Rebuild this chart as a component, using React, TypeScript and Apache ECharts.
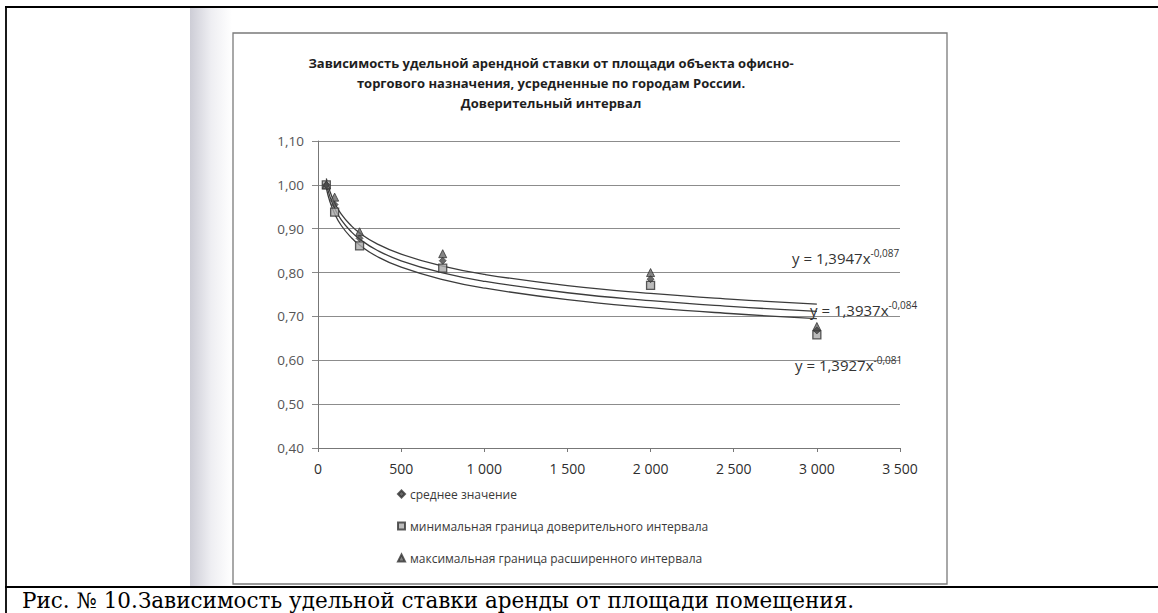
import React, { useEffect, useRef } from "react";
import * as echarts from "echarts";

// ---- data ----
const areas = [50, 100, 250, 750, 2000, 3000];
const meanValues = [1.0, 0.955, 0.878, 0.827, 0.785, 0.668];
const minValues = [1.0, 0.938, 0.861, 0.81, 0.771, 0.658];
const maxValues = [1.0, 0.972, 0.893, 0.843, 0.8, 0.677];

const seriesNames = [
  "среднее значение",
  "минимальная граница доверительного интервала",
  "максимальная граница расширенного интервала",
];

// power trend lines y = a * x^b, as printed on the chart
const trendA = [1.3947, 1.3937, 1.3927];
const trendB = [-0.087, -0.084, -0.081];
const trendMain = ["y = 1,3947x", "y = 1,3937x", "y = 1,3927x"];
const trendExp = ["-0,087", "-0,084", "-0,081"];
const trendX = [50, 70, 100, 140, 200, 250, 350, 500, 750, 1000, 1500, 2000, 2500, 3000];

const titleLines = [
  "Зависимость удельной арендной ставки от площади объекта офисно-",
  "торгового назначения, усредненные по городам России.",
  "Доверительный интервал",
];
const caption = "Рис. № 10.Зависимость удельной ставки аренды от площади помещения.";

const FONT = "'Open Sans', 'Noto Sans', sans-serif";

export default function App() {
  const ref = useRef<HTMLDivElement>(null);

  useEffect(() => {
    if (!ref.current) return;
    const chart = echarts.init(ref.current, undefined, { renderer: "svg" });

    const trendSeries = trendA.map((a, i) => ({
      type: "line",
      name: "trend" + i,
      data: trendX.map((x) => [x, a * Math.pow(x, trendB[i])]),
      showSymbol: false,
      smooth: true,
      lineStyle: { color: "#3c3c3c", width: 1.3 },
      silent: true,
      z: 2,
    }));

    const eqPos = [
      [792, 258],
      [810, 310],
      [795, 365],
    ];

    const option: any = {
      animation: false,
      backgroundColor: "#ffffff",
      textStyle: { fontFamily: FONT },
      title: {
        text: titleLines.join("\n"),
        left: 551,
        top: 53,
        textAlign: "center",
        padding: 0,
        textStyle: {
          fontFamily: FONT,
          fontSize: 13,
          fontWeight: "bold",
          lineHeight: 20,
          color: "#1e1e1e",
        },
      },
      grid: { left: 318, right: 258, top: 141, bottom: 165, containLabel: false },
      xAxis: {
        type: "value",
        min: 0,
        max: 3500,
        interval: 500,
        axisLine: { show: true, lineStyle: { color: "#777", width: 1 } },
        axisTick: { show: true, length: 4, lineStyle: { color: "#777" } },
        splitLine: { show: false },
        axisLabel: {
          color: "#2e2e2e",
          fontSize: 14,
          fontFamily: FONT,
          margin: 13,
          formatter: (v: number) =>
            v >= 1000 ? `${Math.floor(v / 1000)} ${String(v % 1000).padStart(3, "0")}` : String(v),
        },
      },
      yAxis: {
        type: "value",
        min: 0.4,
        max: 1.1,
        interval: 0.1,
        axisLine: { show: true, lineStyle: { color: "#777", width: 1 } },
        axisTick: { show: true, length: 6, lineStyle: { color: "#888" } },
        splitLine: { show: true, lineStyle: { color: "#8c8c8c", width: 1 } },
        axisLabel: {
          color: "#555",
          fontSize: 13.5,
          fontFamily: FONT,
          margin: 14,
          formatter: (v: number) => v.toFixed(2).replace(".", ","),
        },
      },
      legend: {
        orient: "vertical",
        left: 392,
        top: 483,
        itemGap: 20,
        itemWidth: 7,
        itemHeight: 7,
        data: seriesNames,
        textStyle: { color: "#3a3a3a", fontSize: 12, fontFamily: FONT },
      },
      series: [
        ...trendSeries,
        {
          type: "scatter",
          name: seriesNames[1],
          data: areas.map((x, i) => [x, minValues[i]]),
          symbol: "rect",
          symbolSize: 8,
          itemStyle: { color: "#aaa", borderColor: "#333", borderWidth: 1.3 },
          z: 5,
        },
        {
          type: "scatter",
          name: seriesNames[2],
          data: areas.map((x, i) => [x, maxValues[i]]),
          symbol: "triangle",
          symbolSize: 8,
          itemStyle: { color: "#666", borderColor: "#333", borderWidth: 1 },
          z: 6,
        },
        {
          type: "scatter",
          name: seriesNames[0],
          data: areas.map((x, i) => [x, meanValues[i]]),
          symbol: "diamond",
          symbolSize: 7,
          itemStyle: { color: "#444", borderColor: "#333", borderWidth: 0.8 },
          z: 7,
        },
      ],
      graphic: [
        // page table borders
        { type: "line", shape: { x1: 5, y1: 7, x2: 1158, y2: 7 }, style: { stroke: "#000", lineWidth: 1.8 } },
        { type: "line", shape: { x1: 6, y1: 7, x2: 6, y2: 613 }, style: { stroke: "#000", lineWidth: 1.8 } },
        { type: "line", shape: { x1: 5, y1: 587, x2: 1158, y2: 587 }, style: { stroke: "#000", lineWidth: 1.8 } },
        // scan shading at left edge of pasted picture
        {
          type: "rect",
          shape: { x: 190, y: 8, width: 42, height: 578 },
          style: {
            fill: new echarts.graphic.LinearGradient(0, 0, 1, 0, [
              { offset: 0, color: "#cdcdd6" },
              { offset: 0.5, color: "#eeeef2" },
              { offset: 1, color: "#ffffff" },
            ]),
          },
          silent: true,
        },
        // chart frame
        {
          type: "rect",
          shape: { x: 233, y: 33, width: 714, height: 551 },
          style: { fill: "none", stroke: "#7a7a7a", lineWidth: 1.3 },
          silent: true,
        },
        // trend equations
        ...trendMain.map((t, i) => ({
          type: "text",
          x: eqPos[i][0],
          y: eqPos[i][1],
          style: {
            text: `{m|${t}}{s|${trendExp[i]}}`,
            verticalAlign: "middle",
            rich: {
              m: { fontSize: 15, fontFamily: FONT, fill: "#333", color: "#333" },
              s: { fontSize: 10, fontFamily: FONT, fill: "#333", color: "#333", padding: [0, 0, 10, 0] },
            },
          },
          z: 10,
        })),
        // caption
        {
          type: "text",
          x: 22,
          y: 600,
          style: {
            text: caption,
            fontFamily: "'DejaVu Serif', 'Liberation Serif', serif",
            fontSize: 21.5,
            fill: "#000",
            verticalAlign: "middle",
          },
        },
      ],
    };

    chart.setOption(option);
    return () => chart.dispose();
  }, []);

  return (
    <div
      ref={ref}
      style={{ position: "absolute", left: 0, top: 0, width: 1158, height: 613 }}
    />
  );
}
